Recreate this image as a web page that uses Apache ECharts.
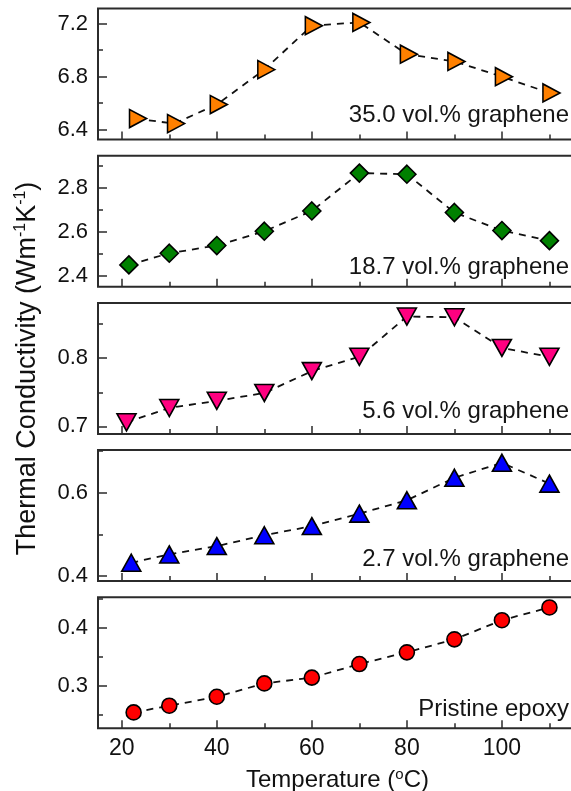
<!DOCTYPE html>
<html><head><meta charset="utf-8">
<script src="https://cdn.jsdelivr.net/npm/echarts@6/dist/echarts.min.js"></script>
<style>html,body{margin:0;padding:0;background:#fff}#c{width:571px;height:791px}</style>
</head><body><div id="c"></div>
<script>
// ---- data ----
const tempA = [23, 31, 40, 50, 60, 70, 80, 90, 100, 110];
const kA    = [6.483, 6.445, 6.589, 6.853, 7.185, 7.21, 6.97, 6.915, 6.8, 6.677];
const tempB = [21.5, 30, 40, 50, 60, 70, 80, 90, 100, 110];
const kB    = [2.45, 2.503, 2.538, 2.603, 2.695, 2.867, 2.862, 2.688, 2.606, 2.56];
const tempC = [21, 30, 40, 50, 60, 70, 80, 90, 100, 110];
const kC    = [0.706, 0.727, 0.7375, 0.749, 0.781, 0.802, 0.861, 0.86, 0.815, 0.802];
const tempD = [22, 30, 40, 50, 60, 70, 80, 90, 100, 110];
const kD    = [0.432, 0.452, 0.472, 0.498, 0.52, 0.55, 0.582, 0.636, 0.672, 0.622];
const tempE = [22.5, 30, 40, 50, 60, 70, 80, 90, 100, 110];
const kE    = [0.254, 0.2655, 0.281, 0.304, 0.314, 0.3374, 0.3576, 0.38, 0.413, 0.435];

const panelLabels = ['35.0 vol.% graphene', '18.7 vol.% graphene', '5.6 vol.% graphene', '2.7 vol.% graphene', 'Pristine epoxy'];
const yMajorTicks = [[6.4, 6.8, 7.2], [2.4, 2.6, 2.8], [0.7, 0.8], [0.4, 0.6], [0.3, 0.4]];
const yMinorTicks = [[6.6, 7.0], [2.5, 2.7, 2.9], [0.75, 0.85], [0.5, 0.7], [0.25, 0.35, 0.45]];
const yExtents    = [[6.325, 7.315], [2.351, 2.946], [0.689, 0.881], [0.388, 0.7025], [0.2266, 0.4525]];
const xMajorTicks = [20, 40, 60, 80, 100];
const xMinorTicks = [30, 50, 70, 90, 110];
const xExtent = [15, 115.8];
const xTitle = '{a|Temperature (}{s|o}{a|C)}';
const yTitle = '{a|Thermal Conductivity (Wm}{s|-1}{a|K}{s|-1}{a|)}';

// ---- styles / layout ----
const FONT = '"Liberation Sans", Arial, sans-serif';
const temps = [tempA, tempB, tempC, tempD, tempE];
const vals = [kA, kB, kC, kD, kE];
const styles = [
  {symbol: 'triangle', size: [18, 17], rotate: -90, color: '#FF8000', offset: [2, 0]},
  {symbol: 'diamond', size: [18, 18], rotate: 0, color: '#008000', offset: [0, 0]},
  {symbol: 'triangle', size: [19, 17], rotate: 180, color: '#FF0080', offset: [0, 0]},
  {symbol: 'triangle', size: [19, 17], rotate: 0, color: '#0000FF', offset: [0, 0]},
  {symbol: 'circle', size: 15, rotate: 0, color: '#FF0000', offset: [0, 0]}
];
const tops = [8.5, 155.7, 302.9, 450.1, 597.3];
const H = 131;
const labelBaselineGap = [15.2, 10.7, 14, 13.4, 10];

const grids = [], xAxes = [], yAxes = [], series = [], graphics = [];
for (let i = 0; i < 5; i++) {
  grids.push({left: 98, right: -6, top: tops[i], height: H, show: true,
    outerBoundsMode: 'none', containLabel: false,
    borderColor: '#2b2b2b', borderWidth: 2, backgroundColor: 'transparent'});
  const last = i === 4;
  xAxes.push({type: 'value', gridIndex: i, min: xExtent[0], max: xExtent[1], position: 'bottom',
    axisLine: {show: false}, splitLine: {show: false},
    axisTick: {show: true, inside: true, length: 8, customValues: xMajorTicks, lineStyle: {color: '#2b2b2b', width: 1.5}},
    axisLabel: {show: last, customValues: xMajorTicks, margin: 9, fontSize: 23, fontFamily: FONT, color: '#111'},
    name: last ? xTitle : '', nameLocation: 'middle', nameGap: 39,
    nameTextStyle: {rich: {a: {fontSize: 24, fontFamily: FONT, color: '#111', lineHeight: 27},
                           s: {fontSize: 15, fontFamily: FONT, color: '#111', verticalAlign: 'top', lineHeight: 15}}}
  });
  xAxes.push({type: 'value', gridIndex: i, min: xExtent[0], max: xExtent[1], position: 'bottom',
    axisLine: {show: false}, splitLine: {show: false}, axisLabel: {show: false},
    axisTick: {show: true, inside: true, length: 5, customValues: xMinorTicks, lineStyle: {color: '#2b2b2b', width: 1.5}}
  });
  yAxes.push({type: 'value', gridIndex: i, min: yExtents[i][0], max: yExtents[i][1], position: 'left',
    axisLine: {show: false}, splitLine: {show: false},
    axisTick: {show: true, inside: true, length: 9, customValues: yMajorTicks[i], lineStyle: {color: '#2b2b2b', width: 1.5}},
    axisLabel: {show: true, customValues: yMajorTicks[i], margin: 10, fontSize: 22, fontFamily: FONT, color: '#111',
      formatter: v => (+v).toFixed(1)},
    name: i === 2 ? yTitle : '', nameLocation: 'middle', nameGap: 55, nameRotate: 90,
    nameTextStyle: {rich: {a: {fontSize: 27, fontFamily: FONT, color: '#111', lineHeight: 30},
                           s: {fontSize: 16, fontFamily: FONT, color: '#111', verticalAlign: 'top', lineHeight: 16}}}
  });
  yAxes.push({type: 'value', gridIndex: i, min: yExtents[i][0], max: yExtents[i][1], position: 'left',
    axisLine: {show: false}, splitLine: {show: false}, axisLabel: {show: false},
    axisTick: {show: true, inside: true, length: 5, customValues: yMinorTicks[i], lineStyle: {color: '#2b2b2b', width: 1.5}}
  });
  const st = styles[i];
  series.push({type: 'line', xAxisIndex: 2 * i, yAxisIndex: 2 * i,
    data: temps[i].map((t, j) => [t, vals[i][j]]),
    symbol: st.symbol, symbolSize: st.size, symbolRotate: st.rotate, symbolOffset: st.offset,
    showAllSymbol: true,
    itemStyle: {color: st.color, borderColor: '#000', borderWidth: 1.6},
    lineStyle: {color: '#111', width: 1.8, type: [7, 6]},
    emphasis: {disabled: true}, animation: false
  });
  const baseline = tops[i] + H - labelBaselineGap[i];
  graphics.push({type: 'text', right: 2, top: baseline - 20.5,
    style: {text: panelLabels[i], font: '24px ' + FONT, fill: '#151515'}});
}

const chart = echarts.init(document.getElementById('c'), null, {renderer: 'canvas'});
chart.setOption({
  animation: false,
  backgroundColor: '#fff',
  grid: grids, xAxis: xAxes, yAxis: yAxes, series: series, graphic: graphics
});
</script></body></html>
